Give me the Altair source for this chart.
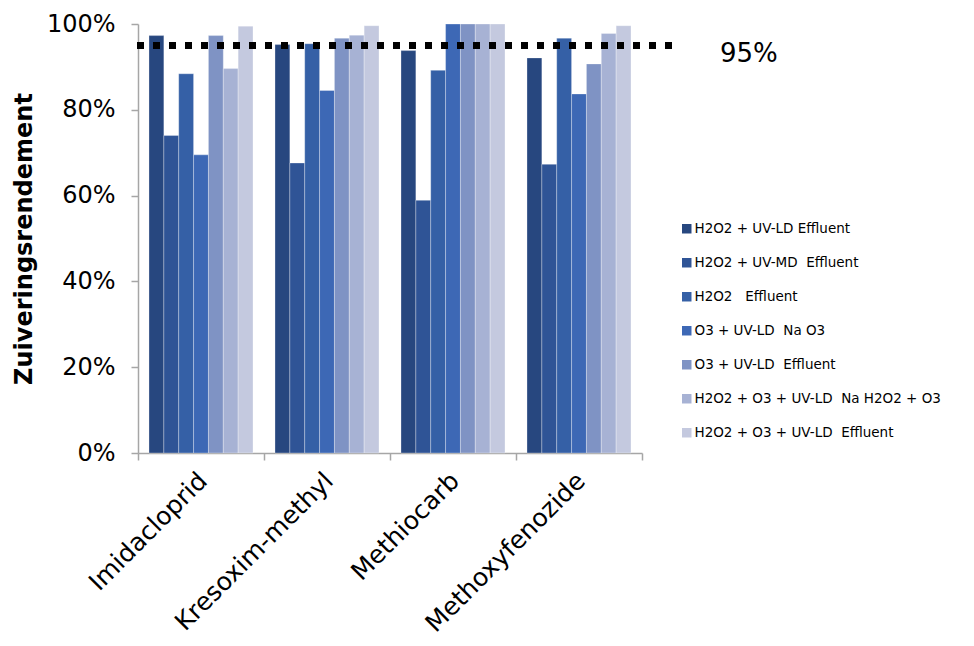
import altair as alt
import pandas as pd

compounds = ["Imidacloprid", "Kresoxim-methyl", "Methiocarb", "Methoxyfenozide"]
series = [
    "H2O2 + UV-LD Effluent",
    "H2O2 + UV-MD  Effluent",
    "H2O2   Effluent",
    "O3 + UV-LD  Na O3",
    "O3 + UV-LD  Effluent",
    "H2O2 + O3 + UV-LD  Na H2O2 + O3",
    "H2O2 + O3 + UV-LD  Effluent",
]
colors = ["#27477F", "#2F5496", "#3560A6", "#3D68B5", "#7F93C4", "#A7B2D4", "#C4C9DF"]

# values per series, in the order of compounds (percent)
v_h2o2_uvld = [97.3, 95.2, 93.8, 92.1]
v_h2o2_uvmd = [74.0, 67.6, 58.9, 67.3]
v_h2o2 = [88.4, 95.4, 89.2, 96.7]
v_o3_uvld_na = [69.5, 84.5, 100.0, 83.7]
v_o3_uvld = [97.3, 96.7, 100.0, 90.7]
v_h2o2_o3_na = [89.6, 97.4, 100.0, 97.8]
v_h2o2_o3 = [99.5, 99.6, 100.0, 99.6]
threshold = 95

all_vals = [v_h2o2_uvld, v_h2o2_uvmd, v_h2o2, v_o3_uvld_na, v_o3_uvld, v_h2o2_o3_na, v_h2o2_o3]
rows = []
for s, vals in zip(series, all_vals):
    for c, v in zip(compounds, vals):
        rows.append({"compound": c, "series": s, "value": v})
df = pd.DataFrame(rows)

W, H = 504, 429
FONT = "DejaVu Sans"

bars = alt.Chart(df).mark_bar(stroke="#ffffff", strokeWidth=0.6, strokeOpacity=0.5).encode(
    x=alt.X("compound:N", sort=compounds,
            scale=alt.Scale(paddingInner=0, paddingOuter=0),
            axis=alt.Axis(title=None, labelAngle=315, labelFontSize=25, labelFont=FONT,
                          labelColor="#000000", tickBand="extent", tickSize=7,
                          tickColor="#a6a6a6", domainColor="#a6a6a6", domainWidth=1.5,
                          tickWidth=1.5, labelPadding=8, labelOffset=-7, labelLimit=0)),
    xOffset=alt.XOffset("series:N", sort=series,
                        scale=alt.Scale(paddingInner=0, paddingOuter=0.74)),
    y=alt.Y("value:Q", scale=alt.Scale(domain=[0, 100]),
            axis=alt.Axis(title="Zuiveringsrendement", values=[0, 20, 40, 60, 80, 100],
                          labelExpr="datum.value + '%'", labelFontSize=24, labelFont=FONT,
                          labelColor="#000000", grid=False, tickSize=7, tickColor="#a6a6a6",
                          domainColor="#a6a6a6", domainWidth=1.5, tickWidth=1.5,
                          labelPadding=16, titleFontSize=24, titleFont=FONT,
                          titleFontWeight="bold", titleColor="#000000", titlePadding=10)),
    color=alt.Color("series:N", sort=series,
                    scale=alt.Scale(domain=series, range=colors),
                    legend=alt.Legend(title=None, orient="none", legendX=542, legendY=198,
                                      symbolType="square", symbolSize=90, symbolStrokeWidth=0,
                                      labelFontSize=13.5, labelFont=FONT, labelColor="#000000",
                                      rowPadding=19, labelOffset=1, labelLimit=400,
                                      labelExpr="replace(datum.label, regexp(' ', 'g'), '\u00a0')")),
)

ref = alt.Chart(pd.DataFrame({"y": [threshold]})).mark_rule(
    color="#000000", strokeWidth=7, strokeDash=[7, 9], clip=False
).encode(x=alt.value(-1), x2=alt.value(538), y="y:Q")

label = alt.Chart(pd.DataFrame({"y": [threshold], "t": ["95%"]})).mark_text(
    fontSize=26, font=FONT, color="#000000", align="left", baseline="middle", dy=9
).encode(x=alt.value(582), y="y:Q", text="t:N")

chart = alt.layer(bars, ref, label).properties(
    width=W, height=H,
    autosize=alt.AutoSizeParams(type="none"),
    padding={"left": 130, "top": 16, "right": 324, "bottom": 185},
).configure_view(stroke=None)

chart.save("out.html", embed_options={"renderer": "svg", "actions": False})
